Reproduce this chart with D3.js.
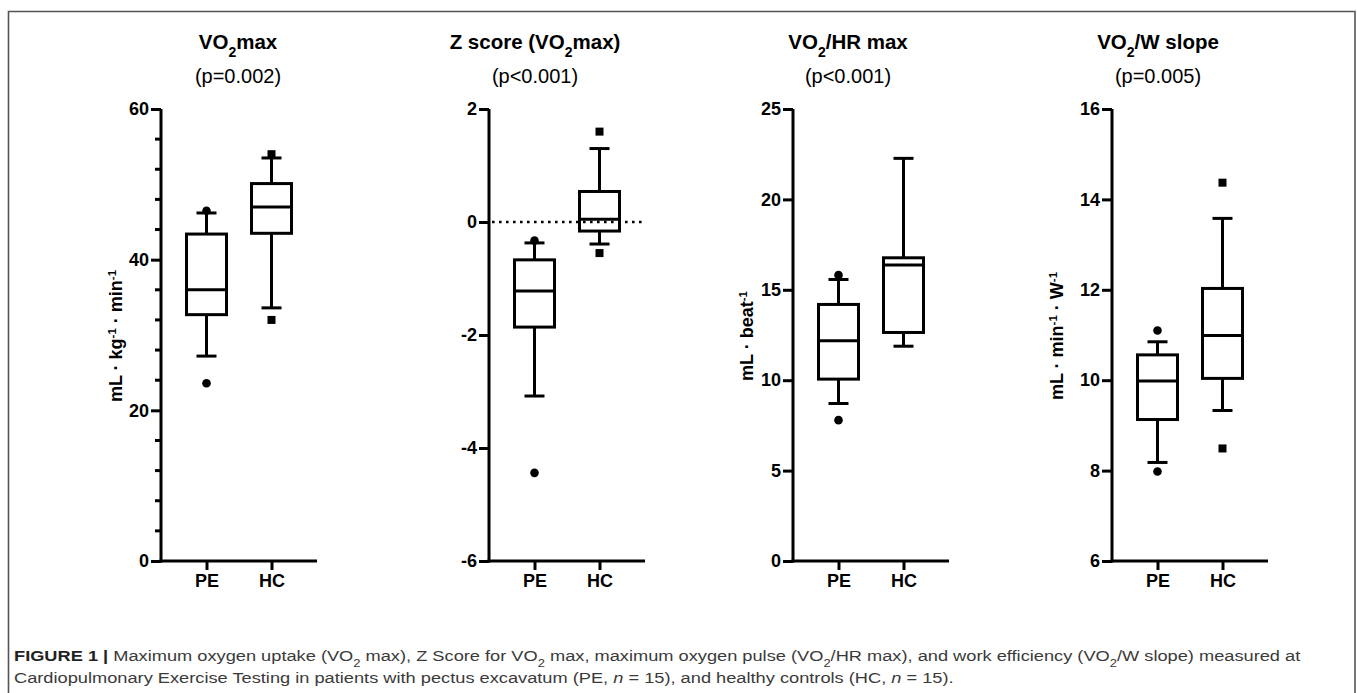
<!DOCTYPE html>
<html><head><meta charset="utf-8">
<script src="https://cdn.jsdelivr.net/npm/d3@7"></script>
<style>
html,body{margin:0;padding:0;background:#fff;}
svg{display:block;font-family:"Liberation Sans",Arial,Helvetica,sans-serif;}
</style></head><body>
<svg id="chart" width="1357" height="693"></svg>
<script>
// ---------------- data ----------------
const groups = ["PE", "HC"];
// [whisker low, Q1, median, Q3, whisker high] per group
const vo2maxBox   = [[27.2, 32.7, 36.0, 43.4, 46.2], [33.6, 43.5, 47.0, 50.1, 53.5]];
const vo2maxOut   = [[23.6, 46.5], [32.0, 54.0]];
const zscoreBox   = [[-3.08, -1.86, -1.22, -0.67, -0.37], [-0.39, -0.16, 0.05, 0.54, 1.30]];
const zscoreOut   = [[-4.44, -0.33], [-0.55, 1.60]];
const pulseBox    = [[8.71, 10.06, 12.18, 14.19, 15.57], [11.88, 12.64, 16.37, 16.77, 22.27]];
const pulseOut    = [[7.79, 15.81], []];
const slopeBox    = [[8.18, 9.13, 9.98, 10.56, 10.85], [9.33, 10.04, 10.99, 12.03, 13.58]];
const slopeOut    = [[7.98, 11.10], [8.49, 14.37]];

const vo2maxTicks = [0, 20, 40, 60];
const zscoreTicks = [-6, -4, -2, 0, 2];
const pulseTicks  = [0, 5, 10, 15, 20, 25];
const slopeTicks  = [6, 8, 10, 12, 14, 16];

const titles = [
  [["VO", ""], ["2", "sub"], ["max", ""]],
  [["Z score (VO", ""], ["2", "sub"], ["max)", ""]],
  [["VO", ""], ["2", "sub"], ["/HR max", ""]],
  [["VO", ""], ["2", "sub"], ["/W slope", ""]]
];
const pValues = ["(p=0.002)", "(p<0.001)", "(p<0.001)", "(p=0.005)"];
const yLabels = [
  [["mL · kg", ""], ["-1", "sup"], [" · min", ""], ["-1", "sup"]],
  null,
  [["mL · beat", ""], ["-1", "sup"]],
  [["mL · min", ""], ["-1", "sup"], [" · W", ""], ["-1", "sup"]]
];
const captionLine1 = [
  ["FIGURE 1 | ", "b"], ["Maximum oxygen uptake (VO", ""], ["2", "sub"], [" max), Z Score for VO", ""], ["2", "sub"],
  [" max, maximum oxygen pulse (VO", ""], ["2", "sub"], ["/HR max), and work efficiency (VO", ""], ["2", "sub"],
  ["/W slope) measured at", ""]
];
const captionLine2 = [
  ["Cardiopulmonary Exercise Testing in patients with pectus excavatum (PE, ", ""], ["n", "i"], [" = 15), and healthy controls (HC, ", ""],
  ["n", "i"], [" = 15).", ""]
];

// --------------- layout ---------------
const panels = [
  {box: vo2maxBox, out: vo2maxOut, domain: [0, 60], ticks: vo2maxTicks, minor: 4, axisX: 161, titleX: 238, labelX: 122},
  {box: zscoreBox, out: zscoreOut, domain: [-6, 2], ticks: zscoreTicks, minor: 0, axisX: 489, titleX: 535, labelX: null, dotted: 0},
  {box: pulseBox,  out: pulseOut,  domain: [0, 25], ticks: pulseTicks, minor: 0, axisX: 793, titleX: 848, labelX: 753},
  {box: slopeBox,  out: slopeOut,  domain: [6, 16], ticks: slopeTicks, minor: 0, axisX: 1112, titleX: 1158, labelX: 1063}
];
const TOP = 109, BOTTOM = 561, PW = 156, BOXW = 40, CAPW = 20, SW = 3;

const svg = d3.select("#chart");

// frame
svg.append("path")
  .attr("d", "M8.5,700 L8.5,11.5 L1355,11.5 L1355,700")
  .attr("fill", "none").attr("stroke", "#555").attr("stroke-width", 1.6);

function addParts(sel, parts, base, small) {
  parts.forEach(([t, k]) => {
    const ts = sel.append("tspan").text(t);
    if (k === "sub") ts.attr("baseline-shift", "sub").attr("font-size", small);
    if (k === "sup") ts.attr("baseline-shift", "super").attr("font-size", small);
    if (k === "b") ts.attr("font-weight", "bold").attr("fill", "#222");
    if (k === "i") ts.attr("font-style", "italic");
  });
}

panels.forEach((p, pi) => {
  const g = svg.append("g");
  const y = d3.scaleLinear().domain(p.domain).range([BOTTOM, TOP]);
  const x = d3.scalePoint().domain(groups).range([p.axisX, p.axisX + PW]).padding(0.7);

  // title
  const t = g.append("text").attr("x", p.titleX).attr("y", 49).attr("text-anchor", "middle")
    .attr("font-size", 20.5).attr("font-weight", "bold");
  addParts(t, titles[pi], 20.5, 14);
  g.append("text").attr("x", p.titleX).attr("y", 83).attr("text-anchor", "middle")
    .attr("font-size", 20).text(pValues[pi]);

  // y label
  if (yLabels[pi]) {
    const yl = g.append("text")
      .attr("transform", `translate(${p.labelX},336) rotate(-90)`)
      .attr("text-anchor", "middle").attr("font-size", 18).attr("font-weight", "bold");
    addParts(yl, yLabels[pi], 18, 11.5);
  }

  // minor ticks
  if (p.minor) {
    const minors = d3.range(p.domain[0], p.domain[1] + 0.001, p.minor).filter(v => !p.ticks.includes(v));
    g.selectAll(".minor").data(minors).join("line")
      .attr("x1", p.axisX - 6).attr("x2", p.axisX).attr("y1", d => y(d)).attr("y2", d => y(d))
      .attr("stroke", "#000").attr("stroke-width", SW);
  }

  // y axis
  const ya = g.append("g").attr("transform", `translate(${p.axisX},0)`)
    .call(d3.axisLeft(y).tickValues(p.ticks).tickSize(10).tickSizeOuter(0).tickPadding(2).tickFormat(d => String(d)));
  ya.select(".domain").attr("stroke-width", SW).attr("d", `M0,${TOP}V${BOTTOM + 1.5}`);
  ya.selectAll(".tick line").attr("stroke-width", SW);
  ya.selectAll(".tick text").attr("font-size", 18).attr("font-weight", "bold").attr("font-family", null).attr("fill", "#000");

  // x axis
  const xa = g.append("g").attr("transform", `translate(0,${BOTTOM})`)
    .call(d3.axisBottom(x).tickSize(9).tickSizeOuter(0).tickPadding(4));
  xa.select(".domain").attr("stroke-width", SW).attr("d", `M${p.axisX - 1.5},0H${p.axisX + PW}`);
  xa.selectAll(".tick line").attr("stroke-width", SW);
  xa.selectAll(".tick text").attr("font-size", 18).attr("font-weight", "bold").attr("font-family", null).attr("fill", "#000");

  // boxes
  groups.forEach((grp, gi) => {
    const [lo, q1, med, q3, hi] = p.box[gi];
    const cx = x(grp);
    const bg = g.append("g").attr("stroke", "#000").attr("stroke-width", SW).attr("fill", "none");
    bg.append("line").attr("x1", cx).attr("x2", cx).attr("y1", y(q3)).attr("y2", y(hi));
    bg.append("line").attr("x1", cx).attr("x2", cx).attr("y1", y(q1)).attr("y2", y(lo));
    bg.append("line").attr("x1", cx - CAPW / 2).attr("x2", cx + CAPW / 2).attr("y1", y(hi)).attr("y2", y(hi));
    bg.append("line").attr("x1", cx - CAPW / 2).attr("x2", cx + CAPW / 2).attr("y1", y(lo)).attr("y2", y(lo));
    bg.append("rect").attr("x", cx - BOXW / 2).attr("width", BOXW)
      .attr("y", y(q3)).attr("height", y(q1) - y(q3)).attr("fill", "#fff");
    bg.append("line").attr("x1", cx - BOXW / 2).attr("x2", cx + BOXW / 2).attr("y1", y(med)).attr("y2", y(med));

    // outliers
    if (gi === 0) {
      g.selectAll(null).data(p.out[gi]).join("circle")
        .attr("cx", cx).attr("cy", d => y(d)).attr("r", 4.3).attr("fill", "#000");
    } else {
      g.selectAll(null).data(p.out[gi]).join("rect")
        .attr("x", cx - 4).attr("y", d => y(d) - 4).attr("width", 8).attr("height", 8).attr("fill", "#000");
    }
  });

  // dotted reference line
  if (p.dotted !== undefined) {
    g.append("line").attr("x1", p.axisX + 3).attr("x2", p.axisX + PW).attr("y1", y(p.dotted)).attr("y2", y(p.dotted))
      .attr("stroke", "#000").attr("stroke-width", 2.6).attr("stroke-dasharray", "2.6,4.4");
  }
});

// caption
const cap = svg.append("g").attr("font-family", "'Liberation Sans Narrow','Liberation Sans',Arial,sans-serif")
  .attr("font-size", 15.5).attr("fill", "#3a3a3a");
const l1 = cap.append("text").attr("x", 0).attr("y", 0);
addParts(l1, captionLine1, 15.5, 11);
const l2 = cap.append("text").attr("x", 0).attr("y", 22.5);
addParts(l2, captionLine2, 15.5, 11);
const w = l1.node().getComputedTextLength();
const sx = 1288 / w;
cap.attr("transform", `translate(14,661) scale(${sx},1)`);
</script>
</body></html>
